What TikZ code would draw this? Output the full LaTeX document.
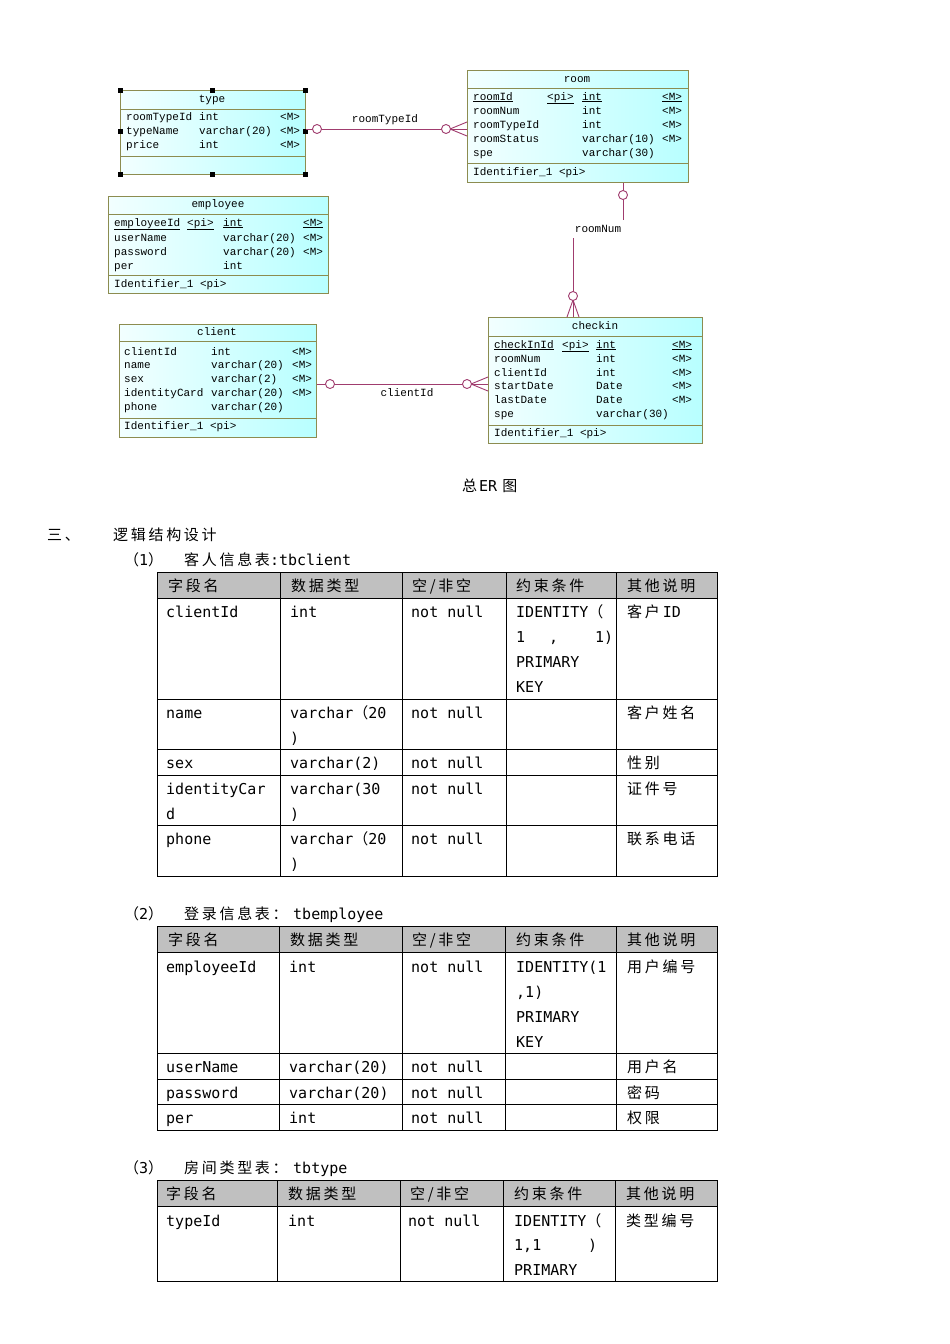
\documentclass[tikz,border=0pt]{standalone}
\usepackage{fontspec}
\setmainfont{DejaVu Sans Mono}
\newfontfamily\cn[LetterSpace=18]{Noto Sans CJK SC}
\newfontfamily\ermono{Liberation Mono}
\definecolor{entB}{RGB}{140,140,80}
\definecolor{relc}{RGB}{160,60,110}
\definecolor{hdr}{RGB}{192,192,192}
\newcount\tcnt
\newcommand\tx[3]{\global\advance\tcnt by 1 \node[tt] (tx\the\tcnt) at (#1,#2) {#3};}
\newcommand\et[3]{\global\advance\tcnt by 1 \node[etx] (ex\the\tcnt) at (#1,#2) {#3};}
\tikzset{
  ent/.style={draw=entB, line width=0.8pt, left color=cyan!5, right color=cyan!28, inner sep=0, anchor=north west},
  entline/.style={draw=entB, line width=0.8pt},
  etx/.style={font=\ermono\fontsize{11}{13}\selectfont, inner sep=0, anchor=base west},
  ettl/.style={font=\ermono\fontsize{11}{13}\selectfont, inner sep=0, anchor=base},
  lbl/.style={font=\ermono\fontsize{11}{13}\selectfont, fill=white, inner xsep=3.6pt, inner ysep=5pt},
  rel/.style={draw=relc, line width=0.9pt},
  handle/.style={fill=black, minimum size=5pt, inner sep=0},
  tt/.style={font=\fontsize{15}{18}\selectfont, inner sep=0, anchor=base west},
  tline/.style={draw=black, line width=0.8pt},
}
\begin{document}
\begin{tikzpicture}[x=1pt,y=-1pt]
\useasboundingbox (0,0) rectangle (950,1344);
\fill[white] (0,0) rectangle (950,1344);

% ---------- entities ----------
\node[ent, minimum width=185pt, minimum height=84pt] (type) at (120,90) {};
\draw[entline] (120,109) -- (305,109);
\draw[entline] (120,156) -- (305,156);
\node[ettl] (typeT) at (212,102) {type};
\et{126}{120}{roomTypeId}\et{199}{120}{int}\et{280}{120}{<M>}
\et{126}{134}{typeName}\et{199}{134}{varchar(20)}\et{280}{134}{<M>}
\et{126}{148}{price}\et{199}{148}{int}\et{280}{148}{<M>}

\node[ent, minimum width=221pt, minimum height=112pt] (room) at (467,70) {};
\draw[entline] (467,88) -- (688,88);
\draw[entline] (467,163) -- (688,163);
\node[ettl] (roomT) at (577,82) {room};
\et{473}{100}{\underline{roomId}}\et{547}{100}{\underline{<pi>}}\et{582}{100}{\underline{int}}\et{662}{100}{\underline{<M>}}
\et{473}{114}{roomNum}\et{582}{114}{int}\et{662}{114}{<M>}
\et{473}{128}{roomTypeId}\et{582}{128}{int}\et{662}{128}{<M>}
\et{473}{142}{roomStatus}\et{582}{142}{varchar(10)}\et{662}{142}{<M>}
\et{473}{156}{spe}\et{582}{156}{varchar(30)}
\et{473}{175}{Identifier\_1 <pi>}

\node[ent, minimum width=220pt, minimum height=97pt] (employee) at (108,196) {};
\draw[entline] (108,214) -- (328,214);
\draw[entline] (108,275) -- (328,275);
\node[ettl] (empT) at (218,207) {employee};
\et{114}{226}{\underline{employeeId}}\et{187}{226}{\underline{<pi>}}\et{223}{226}{\underline{int}}\et{303}{226}{\underline{<M>}}
\et{114}{241}{userName}\et{223}{241}{varchar(20)}\et{303}{241}{<M>}
\et{114}{255}{password}\et{223}{255}{varchar(20)}\et{303}{255}{<M>}
\et{114}{269}{per}\et{223}{269}{int}
\et{114}{287}{Identifier\_1 <pi>}

\node[ent, minimum width=197pt, minimum height=113pt] (client) at (119,324) {};
\draw[entline] (119,341) -- (316,341);
\draw[entline] (119,418) -- (316,418);
\node[ettl] (clT) at (217,335) {client};
\et{124}{355}{clientId}\et{211}{355}{int}\et{292}{355}{<M>}
\et{124}{368}{name}\et{211}{368}{varchar(20)}\et{292}{368}{<M>}
\et{124}{382}{sex}\et{211}{382}{varchar(2)}\et{292}{382}{<M>}
\et{124}{396}{identityCard}\et{211}{396}{varchar(20)}\et{292}{396}{<M>}
\et{124}{410}{phone}\et{211}{410}{varchar(20)}
\et{124}{429}{Identifier\_1 <pi>}

\node[ent, minimum width=214pt, minimum height=126pt] (checkin) at (488,317) {};
\draw[entline] (488,336) -- (702,336);
\draw[entline] (488,425) -- (702,425);
\node[ettl] (ckT) at (595,329) {checkin};
\et{494}{348}{\underline{checkInId}}\et{562}{348}{\underline{<pi>}}\et{596}{348}{\underline{int}}\et{672}{348}{\underline{<M>}}
\et{494}{362}{roomNum}\et{596}{362}{int}\et{672}{362}{<M>}
\et{494}{376}{clientId}\et{596}{376}{int}\et{672}{376}{<M>}
\et{494}{389}{startDate}\et{596}{389}{Date}\et{672}{389}{<M>}
\et{494}{403}{lastDate}\et{596}{403}{Date}\et{672}{403}{<M>}
\et{494}{417}{spe}\et{596}{417}{varchar(30)}
\et{494}{436}{Identifier\_1 <pi>}

% selection handles on type
\node[handle] (h1) at (120,90) {};
\node[handle] (h2) at (212,90) {};
\node[handle] (h3) at (305,90) {};
\node[handle] (h4) at (120,131) {};
\node[handle] (h5) at (305,131) {};
\node[handle] (h6) at (120,174) {};
\node[handle] (h7) at (212,174) {};
\node[handle] (h8) at (305,174) {};

% ---------- relationships ----------
\draw[rel] (type.east |- 0,129) -- (room.west |- 0,129);
\draw[rel] (450,129) -- (467,122) (450,129) -- (467,136);
\draw[rel, fill=white] (317,129) circle (4.5);
\draw[rel, fill=white] (446,129) circle (4.5);
\node[etx, anchor=base] (l1) at (385,122) {roomTypeId};

\draw[rel] (623,0 |- room.south) -- (623,229) -- (573,229) -- (573,0 |- checkin.north);
\draw[rel] (573,300) -- (567,317) (573,300) -- (579,317);
\draw[rel, fill=white] (623,195) circle (4.5);
\draw[rel, fill=white] (573,296) circle (4.5);
\node[lbl] (l2) at (598,229) {roomNum};

\draw[rel] (client.east |- 0,384) -- (checkin.west |- 0,384);
\draw[rel] (471,384) -- (488,377) (471,384) -- (488,391);
\draw[rel, fill=white] (330,384) circle (4.5);
\draw[rel, fill=white] (467,384) circle (4.5);
\node[etx, anchor=base] (l3) at (407,396) {clientId};

% ---------- captions ----------
\tx{462}{491}{{\cn 总}\hspace{2pt}ER\hspace{5pt}{\cn 图}}
\tx{47}{540}{{\cn 三、}}
\tx{113}{540}{{\cn 逻辑结构设计}}
\tx{124}{565}{{\cn （}1{\cn ）}}
\tx{184}{565}{{\cn 客人信息表}:tbclient}
\tx{124}{919}{{\cn （}2{\cn ）}}
\tx{184}{919}{{\cn 登录信息表：}}
\tx{293}{919}{tbemployee}
\tx{124}{1173}{{\cn （}3{\cn ）}}
\tx{184}{1173}{{\cn 房间类型表：}}
\tx{293}{1173}{tbtype}

% ---------- table 1 ----------
\fill[hdr] (157,572) rectangle (717,598);
\draw[tline] (157,572) rectangle (717,876);
\foreach \yy in {598,699,749,775,825} \draw[tline] (157,\yy) -- (717,\yy);
\foreach \xx in {280,402,506,616} \draw[tline] (\xx,572) -- (\xx,876);
\tx{168}{591}{{\cn 字段名}}\tx{291}{591}{{\cn 数据类型}}\tx{412}{591}{{\cn 空/非空}}\tx{516}{591}{{\cn 约束条件}}\tx{627}{591}{{\cn 其他说明}}
\tx{166}{617}{clientId}\tx{290}{617}{int}\tx{411}{617}{not null}\tx{516}{617}{IDENTITY{\cn （}}\tx{627}{617}{{\cn 客户}\hspace{3pt}ID}
\tx{516}{642}{1}\tx{549}{642}{,}\tx{595}{642}{1)}
\tx{516}{667}{PRIMARY}
\tx{516}{692}{KEY}
\tx{166}{718}{name}\tx{290}{718}{varchar{\cn （}20}\tx{411}{718}{not null}\tx{627}{718}{{\cn 客户姓名}}
\tx{290}{743}{)}
\tx{166}{768}{sex}\tx{290}{768}{varchar(2)}\tx{411}{768}{not null}\tx{627}{768}{{\cn 性别}}
\tx{166}{794}{identityCar}\tx{290}{794}{varchar(30}\tx{411}{794}{not null}\tx{627}{794}{{\cn 证件号}}
\tx{166}{819}{d}\tx{290}{819}{)}
\tx{166}{844}{phone}\tx{290}{844}{varchar{\cn （}20}\tx{411}{844}{not null}\tx{627}{844}{{\cn 联系电话}}
\tx{290}{869}{)}

% ---------- table 2 ----------
\fill[hdr] (157,926) rectangle (717,952);
\draw[tline] (157,926) rectangle (717,1130);
\foreach \yy in {952,1053,1079,1104} \draw[tline] (157,\yy) -- (717,\yy);
\foreach \xx in {279,402,505,616} \draw[tline] (\xx,926) -- (\xx,1130);
\tx{168}{945}{{\cn 字段名}}\tx{290}{945}{{\cn 数据类型}}\tx{412}{945}{{\cn 空/非空}}\tx{516}{945}{{\cn 约束条件}}\tx{627}{945}{{\cn 其他说明}}
\tx{166}{972}{employeeId}\tx{289}{972}{int}\tx{411}{972}{not null}\tx{516}{972}{IDENTITY(1}\tx{627}{972}{{\cn 用户编号}}
\tx{516}{997}{,1)}
\tx{516}{1022}{PRIMARY}
\tx{516}{1047}{KEY}
\tx{166}{1072}{userName}\tx{289}{1072}{varchar(20)}\tx{411}{1072}{not null}\tx{627}{1072}{{\cn 用户名}}
\tx{166}{1098}{password}\tx{289}{1098}{varchar(20)}\tx{411}{1098}{not null}\tx{627}{1098}{{\cn 密码}}
\tx{166}{1123}{per}\tx{289}{1123}{int}\tx{411}{1123}{not null}\tx{627}{1123}{{\cn 权限}}

% ---------- table 3 ----------
\fill[hdr] (157,1180) rectangle (717,1206);
\draw[tline] (157,1180) rectangle (717,1281);
\draw[tline] (157,1206) -- (717,1206);
\foreach \xx in {277,400,503,615} \draw[tline] (\xx,1180) -- (\xx,1281);
\tx{166}{1199}{{\cn 字段名}}\tx{288}{1199}{{\cn 数据类型}}\tx{410}{1199}{{\cn 空/非空}}\tx{514}{1199}{{\cn 约束条件}}\tx{626}{1199}{{\cn 其他说明}}
\tx{166}{1226}{typeId}\tx{288}{1226}{int}\tx{408}{1226}{not null}\tx{514}{1226}{IDENTITY{\cn （}}\tx{626}{1226}{{\cn 类型编号}}
\tx{514}{1250}{1,1}\tx{588}{1250}{)}
\tx{514}{1275}{PRIMARY}
\end{tikzpicture}
\end{document}
